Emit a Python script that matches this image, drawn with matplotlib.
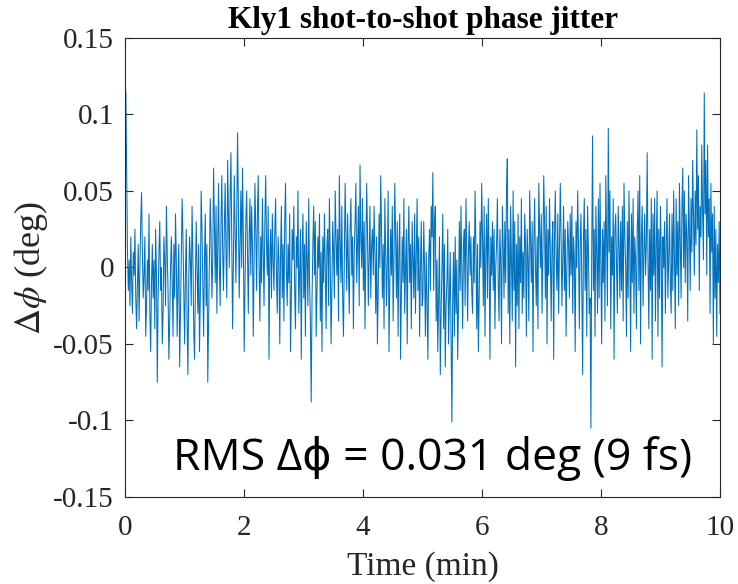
import matplotlib
matplotlib.use("Agg")
import matplotlib.pyplot as plt
import numpy as np

# shot-to-shot phase error in millidegrees (12 blocks, ~0.83 min each)
phase_mdeg = [
    0, 115, 60, 10, -15, 5, -25, 20, -10, -30, 10, -5, 25, -20, -40, -10, 15, -35, 0, 30,
    49, 10, -20, -5, 20, -45, -25, 5, -15, 35, -30, -55, -10, 15, -20, 5, -40, 25, -5, -75,
    -20, 10, 30, -15, 0, -50, -30, 20, 5, -25, 40, 10, -15, -60, -35, 0, 20, -10, -45, 15,
    -20, 35, 5, -45, -10, 15, -65, -30, 10, 45, 20, -15, -50, -5, 25, -35, -70, -10, 20, 5,
    -25, 40, 10, -40, -60, -15, 30, 0, -30, 15, -55, -20, 50, 25, -10, -45, 5, 35, -25, 15,
    -75, -35, 10, 45, 20, -20, 5, 65, 30, -10, 40, -30, 15, 55, 0, -25, 30, 60, 10, -15,
    25, 55, 10, -20, 70, 35, 0, 45, 75, 15, -40, 5, 60, 25, -10, 35, 88, 40, -20, 15,
    50, 0, 65, 20, -55, -15, 30, 50, 10, -30, 20, 45, -5, 40, 15, -45, 5, 55, 25, -15,
    35, 60, 0, -35, 20, -10, 45, 10, -25, 30, 60, 15, -5, 40, -60, 10, 25, -20, 35, 5,
    -15, 25, 45, -5, -30, 20, 5, -50, 10, 40, -20, 15, -35, 30, 55, 0, -25, 15, -10, 35,
    -55, -20, 25, 5, 40, -15, -40, 20, 0, 50, -30, -5, 25, -60, 10, 35, -20, 15, -45, 30,
    5, -25, 45, -10, -35, -88, -20, 15, 40, -5, 30, -45, -15, 20, 0, 35, -35, 10, -55, 20,
    -10, 35, 0, -40, 15, 25, -25, 45, 5, -50, -15, 30, 10, -20, 50, 20, -5, 25, -35, 60,
    15, -10, 40, -20, -45, 5, 55, 20, -15, 35, 0, -30, 25, 45, -5, 20, -40, 10, 30, 55,
    -10, 15, 40, -25, 67, 20, 0, 45, -15, 30, -40, 10, 55, 25, -25, 5, 40, -20, 15, 25,
    -5, 40, 10, -30, 20, -50, -15, 35, 0, 60, 25, -20, 15, -40, 45, 10, -25, 5, 50, -55,
    -10, 25, -5, 40, -35, 5, 55, 20, -20, 30, -45, 10, 35, -60, -15, 20, -10, 45, -30, 0,
    25, -50, 15, 40, -10, 15, -40, 30, 5, -20, 35, -30, 10, 45, -15, 20, -45, 0, 30, -25,
    -20, 30, 0, -45, 10, -25, -60, 5, 25, -15, 40, 20, 62, -15, 30, 40, -35, 5, -55, -20,
    20, -70, -30, 0, 35, -40, 15, -65, -25, -10, 25, -50, -20, 10, -45, -101, -20, 10, -45, 20,
    -30, 5, -60, -25, 30, -15, 40, 0, -40, 15, 25, -25, 45, 10, -35, 10, 30, -5, 20, -15,
    -30, 20, -10, 50, 15, -40, 15, -55, -20, 30, 0, 55, 20, -25, 40, -45, 10, 35, -20, 45,
    5, -60, 20, -5, 30, -15, 25, -40, 0, 15, 45, -10, -35, 25, 5, -50, 40, 15, -20, 30,
    -10, 50, 71, -30, 25, -50, 40, 5, -35, 50, -15, 30, -65, 15, -25, 35, -40, 20, -10, 45,
    -30, 10, -20, 35, 15, -45, 25, 5, -35, 50, 20, -10, 30, -55, 15, 45, 0, -25, 20, -40,
    55, 25, 0, 35, -30, 10, 60, 30, -20, 40, -50, 25, -5, 45, 10, -35, 15, 30, -60, 20,
    50, 5, -15, 35, -30, 10, 55, 20, -25, 5, 40, -15, 25, -45, 0, 30, 15, -20, 35, -5,
    40, -30, 20, 5, -55, 30, 0, 50, 15, -40, 15, 35, -10, -70, 20, 45, -15, 25, -45, 40,
    10, -30, -20, -105, 10, 86, -15, 25, -45, 40, 10, -30, 45, -20, 55, 5, -50, 25, -10, 30,
    -35, 60, 15, -25, 91, 10, 50, -40, 20, -5, 45, -60, 25, 35, 0, -30, 40, 15, -20, 30,
    -15, 40, -35, 55, 20, 0, -45, 30, -20, 50, 10, -55, 35, -10, 45, -30, 20, 5, -40, 25,
    50, -15, 60, -50, 20, 40, -25, 10, 35, -5, 15, 75, 5, -40, 25, -15, 45, -60, 35, -5,
    45, -35, 15, 50, -45, 25, -20, 40, 10, -65, 20, 0, 30, -30, 15, 45, -20, 5, 35, -10,
    -30, 35, -15, 50, 5, -40, 45, -5, 30, -25, 55, 15, -20, 40, 65, 0, 50, -10, 35, 20,
    -35, 60, 25, -15, 45, 10, 70, 30, -5, 50, 15, 90, 25, 60, -15, 40, 20, 80, 35, 5,
    114, 35, 70, -5, 80, 20, 45, -30, 55, 10, 35, -50, 40, -20, 25, -45, 15, -10, 30, -30,
]
duration_min = 10.0
title = "Kly1 shot-to-shot phase jitter"
note = "RMS \u0394\u03d5 = 0.031 deg (9 fs)"
yticks = [-0.15, -0.1, -0.05, 0, 0.05, 0.1, 0.15]
ytick_labels = ["-0.15", "-0.1", "-0.05", "0", "0.05", "0.1", "0.15"]
xticks = [0, 2, 4, 6, 8, 10]

phase = np.array(phase_mdeg) / 1000.0
t = np.arange(len(phase)) * duration_min / (len(phase) - 1)

plt.rcParams.update({
    "font.family": ["Liberation Serif", "DejaVu Serif"],
    "mathtext.fontset": "stix",
    "font.size": 20,
})

fig = plt.figure(figsize=(7.38, 5.84), dpi=100)
ax = fig.add_axes([0.1694, 0.149, 0.8062, 0.786])
ax.plot(t, phase, color="#0072BD", linewidth=0.75)

ax.set_xlim(0, duration_min)
ax.set_ylim(-0.15, 0.15)
ax.set_xticks(xticks)
ax.set_yticks(yticks)
ax.set_yticklabels(ytick_labels)
ax.tick_params(direction="in", length=6, width=0.8, top=True, right=True,
               labelsize=21, colors="#262626", pad=8)
ax.tick_params(axis="x", pad=13)
for s in ax.spines.values():
    s.set_color("#262626")
    s.set_linewidth(0.8)

ax.set_xlabel("Time (min)", fontsize=24, color="#262626", labelpad=7)
ax.set_ylabel(r"$\Delta\phi$ (deg)", fontsize=26, color="#262626", labelpad=2)
ax.set_title(title, fontsize=22.5, fontweight="bold", pad=7)

ax.text(0.517, 0.083, note, transform=ax.transAxes, ha="center", va="center",
        fontsize=32, family=["Open Sans", "DejaVu Sans"], color="black")

fig.savefig("out.png", dpi=100)
